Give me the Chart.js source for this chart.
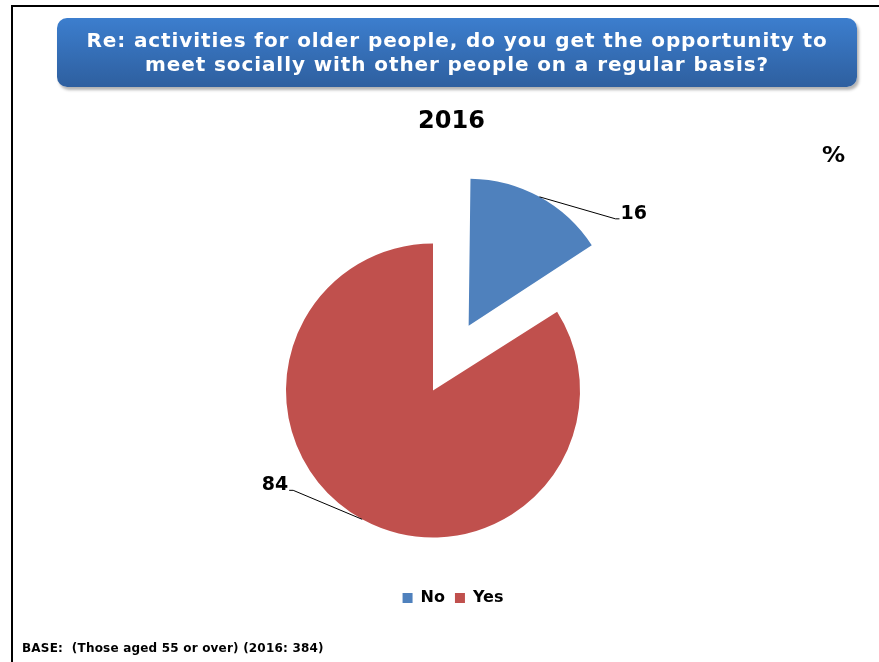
<!DOCTYPE html>
<html>
<head>
<meta charset="utf-8">
<title>Social opportunities 2016</title>
<script src="https://cdn.jsdelivr.net/npm/chart.js@4.4.1/dist/chart.umd.min.js"></script>
<style>
	html, body { margin: 0; padding: 0; background: #fff; }
	#page {
		position: relative;
		width: 879px;
		height: 662px;
		overflow: hidden;
		font-family: "DejaVu Sans", Verdana, sans-serif;
		font-weight: bold;
	}
	#frame {
		position: absolute;
		left: 11px;
		top: 5px;
		width: 920px;
		height: 720px;
		border-left: 2px solid #000;
		border-top: 2px solid #000;
	}
	#chart-wrap {
		position: absolute;
		left: 0;
		top: 0;
		width: 879px;
		height: 662px;
	}
	#banner {
		position: absolute;
		left: 57px;
		top: 18px;
		width: 800px;
		height: 69px;
		box-sizing: border-box;
		padding-top: 10px;
		border-radius: 10px;
		background: linear-gradient(#3c7ece, #2e5f9f);
		box-shadow: 2px 3px 3px rgba(0, 0, 0, 0.3);
		color: #fff;
		font-size: 20px;
		letter-spacing: 0.9px;
		line-height: 24px;
		text-align: center;
	}
	#year {
		position: absolute;
		left: 0;
		width: 903px;
		top: 106px;
		font-size: 24px;
		text-align: center;
	}
	#pct {
		position: absolute;
		left: 822px;
		top: 143px;
		font-size: 21px;
		transform: scaleX(1.1);
		transform-origin: left top;
	}
	#base {
		position: absolute;
		left: 22px;
		top: 641px;
		font-size: 12px;
		letter-spacing: 0.2px;
	}
</style>
</head>
<body>
<div id="page">
	<div id="chart-wrap"><canvas id="pie-chart"></canvas></div>
	<div id="frame"></div>
	<div id="banner">Re: activities for older people, do you get the opportunity to<br>meet socially with other people on a regular basis?</div>
	<div id="year">2016</div>
	<div id="pct">%</div>
	<div id="base">BASE:&nbsp; (Those aged 55 or over) (2016: 384)</div>
</div>
<script>
	'use strict';

	var answers = ['No', 'Yes'];
	var shares2016 = [16, 84];
	var sliceColors = ['#4f81bd', '#c0504d'];

	// Leader line for each slice: where it ends relative to the slice edge
	var leaderOffsets = [{ x: 76, y: 22 }, { x: -69, y: -29 }];

	var FONT = '"DejaVu Sans", Verdana, sans-serif';

	// Chart.js moves an exploded arc by offset/4 and also grows its radius a bit;
	// these two helpers mirror that so the slice keeps the pie radius.
	function shiftOf(arc) {
		return (arc.options.offset || 0) / 4;
	}

	function growthOf(arc) {
		var circ = arc.endAngle - arc.startAngle;
		return shiftOf(arc) * (1 - Math.sin(Math.min(Math.PI, circ)));
	}

	var keepRadius = {
		id: 'keepRadius',
		afterDatasetUpdate: function(chart, args) {
			args.meta.data.forEach(function(arc) {
				arc.outerRadius -= growthOf(arc);
			});
		}
	};

	// Value labels with leader lines pulled out of the slice edge
	var leaderLabels = {
		id: 'leaderLabels',
		afterDatasetsDraw: function(chart) {
			var ctx = chart.ctx;
			var meta = chart.getDatasetMeta(0);
			ctx.save();
			ctx.strokeStyle = '#000';
			ctx.lineWidth = 1;
			ctx.fillStyle = '#000';
			ctx.font = 'bold 19px ' + FONT;
			ctx.textBaseline = 'alphabetic';
			meta.data.forEach(function(arc, i) {
				var mid = (arc.startAngle + arc.endAngle) / 2;
				var r = shiftOf(arc) + arc.outerRadius + growthOf(arc);
				var sx = arc.x + Math.cos(mid) * r;
				var sy = arc.y + Math.sin(mid) * r;
				var off = leaderOffsets[i];
				var ex = sx + off.x;
				var ey = sy + off.y;
				var dir = off.x >= 0 ? 1 : -1;
				ctx.beginPath();
				ctx.moveTo(sx, sy);
				ctx.lineTo(ex, ey);
				ctx.lineTo(ex + dir * 4, ey);
				ctx.stroke();
				ctx.textAlign = dir > 0 ? 'left' : 'right';
				ctx.fillText(String(shares2016[i]), ex + dir * 5, ey);
			});
			ctx.restore();
		}
	};

	// The legend sits a little right of the pie centre
	var legendNudge = {
		id: 'legendNudge',
		afterLayout: function(chart) {
			chart.legend.left += 20;
			chart.legend.right += 20;
		}
	};

	new Chart(document.getElementById('pie-chart'), {
		type: 'pie',
		data: {
			labels: answers,
			datasets: [{
				data: shares2016,
				backgroundColor: sliceColors,
				borderWidth: 0,
				offset: [296, 0],
				hoverOffset: 0
			}]
		},
		options: {
			responsive: true,
			maintainAspectRatio: false,
			animation: false,
			radius: 147,
			layout: {
				padding: { top: 201, bottom: 46, left: 0, right: 13 }
			},
			plugins: {
				legend: {
					position: 'bottom',
					labels: {
						boxWidth: 10,
						boxHeight: 10,
						padding: 10,
						color: '#000',
						font: { family: FONT, size: 16, weight: 'bold' }
					}
				},
				tooltip: { enabled: false }
			}
		},
		plugins: [keepRadius, leaderLabels, legendNudge]
	});
</script>
</body>
</html>
